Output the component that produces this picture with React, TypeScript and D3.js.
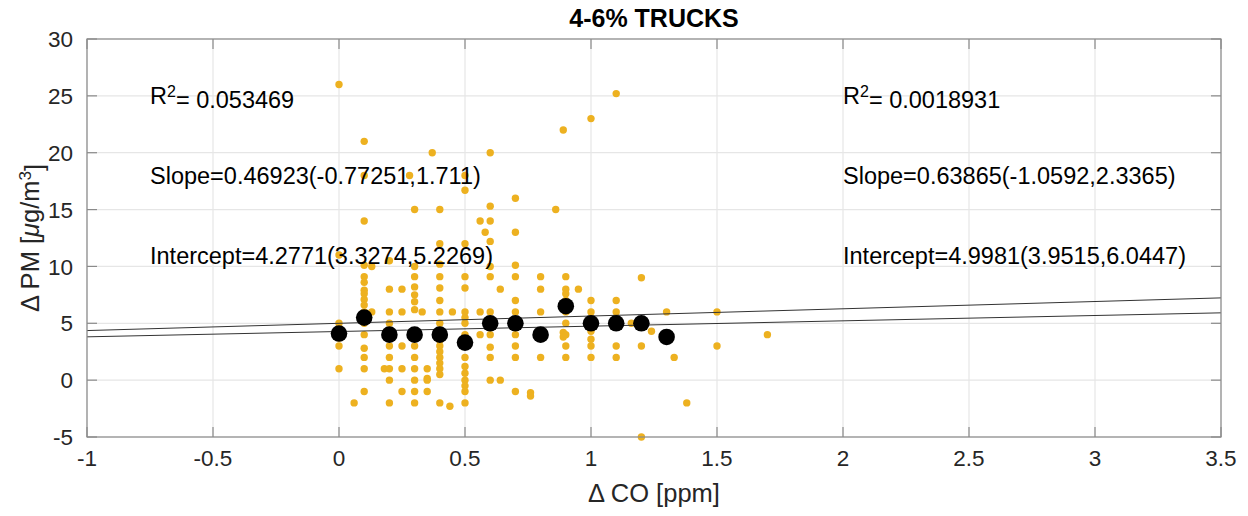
import * as d3 from 'd3'

// ΔCO [ppm] / ΔPM [µg/m3] scatter, grouped by CO column
const scatterColumns: [number, number[]][] = [
  [0, [26, 11, 5, 3.7, 3, 1, 4]],
  [0.06, [-2]],
  [0.1, [21, 18, 14, 10.1, 9.1, 8.6, 7.9, 7.6, 7.1, 6.6, 6, 5, 4, 2.8, 2, 1, -1]],
  [0.13, [10, 6]],
  [0.18, [1]],
  [0.2, [10.5, 8, 6, 5, 4, 3, 2, 1, 0, -2]],
  [0.25, [8, 6, 3, 1, -1]],
  [0.28, [18]],
  [0.3, [15, 10, 9.1, 8.2, 7.5, 6.9, 6.2, 3.8, 3, 2, 1, 0, -1, -2]],
  [0.33, [6]],
  [0.35, [1, 0.15, 0, -1]],
  [0.37, [20]],
  [0.4, [15, 12, 10.2, 9.1, 8.1, 7, 6, 5, 4, 3.5, 3, 2.5, 2, 1.5, 1, 0.5, -2]],
  [0.44, [-2.3]],
  [0.45, [6]],
  [0.5, [18, 16.7, 12, 9.1, 8.1, 6, 5.5, 5, 4, 2, 1.2, 0.6, 0, -0.5, -1, -2]],
  [0.56, [14, 6, 4]],
  [0.58, [13]],
  [0.6, [20, 15.3, 14, 12.2, 10, 9.1, 6, 5, 4, 2.9, 2, 0]],
  [0.64, [8, 0]],
  [0.7, [16, 13, 10.1, 9.1, 7, 6, 5, 4, 3, 2, -1]],
  [0.76, [-1.1, -1.4]],
  [0.8, [9.1, 8, 6, 2]],
  [0.86, [15]],
  [0.89, [22, 4.2, 3.8]],
  [0.9, [9.1, 8, 7.6, 7, 6, 5, 4, 3, 2]],
  [0.95, [8]],
  [1.0, [23, 7, 6, 5, 4.3, 3.6, 3, 2]],
  [1.1, [25.2, 7, 6, 5, 3, 2]],
  [1.16, [5]],
  [1.2, [9, 5, 3, -5]],
  [1.24, [4.3]],
  [1.3, [6]],
  [1.33, [2]],
  [1.38, [-2]],
  [1.5, [6, 3]],
  [1.7, [4]],
]

const binCO = [0, 0.1, 0.2, 0.3, 0.4, 0.5, 0.6, 0.7, 0.8, 0.9, 1.0, 1.1, 1.2, 1.3]
const binPM = [4.1, 5.5, 4, 4, 4, 3.3, 5, 5, 4, 6.5, 5, 5, 5, 3.8]

const fitSlopes = [0.46923, 0.63865]
const fitIntercepts = [4.2771, 4.9981]

const leftNotes = ['0.053469', 'Slope=0.46923(-0.77251,1.711)', 'Intercept=4.2771(3.3274,5.2269)']
const rightNotes = ['0.0018931', 'Slope=0.63865(-1.0592,2.3365)', 'Intercept=4.9981(3.9515,6.0447)']
const noteX = [-0.75, 2]
const noteY = [25, 18, 11]

const xTicks = [-1, -0.5, 0, 0.5, 1, 1.5, 2, 2.5, 3, 3.5]
const yTicks = [-5, 0, 5, 10, 15, 20, 25, 30]

const W = 1248
const H = 516
const m = { top: 39, right: 27, bottom: 79, left: 87 }
const FONT = '"Liberation Sans", Arial, Helvetica, sans-serif'
const TEXT = '#262626'
const AXIS = '#8a8a8a'
const GRID = '#e6e6e6'
const TICK = 10

export default function App() {
  const x = d3.scaleLinear().domain([-1, 3.5]).range([m.left, W - m.right])
  const y = d3.scaleLinear().domain([-5, 30]).range([H - m.bottom, m.top])
  const points = scatterColumns.flatMap(([co, pms]) => pms.map(pm => [co, pm]))
  const line = d3.line<number[]>().x(v => x(v[0])).y(v => y(v[1]))
  const x0 = m.left, x1 = W - m.right, y0 = H - m.bottom, y1 = m.top

  return (
    <svg width={W} height={H} style={{ position: 'absolute', left: 0, top: 0, background: '#fff' }}
      fontFamily={FONT}>
      <rect width={W} height={H} fill="#fff" />
      {/* grid */}
      {xTicks.map(t => (
        <line key={'gx' + t} x1={x(t)} x2={x(t)} y1={y0} y2={y1} stroke={GRID} strokeWidth={1.2} />
      ))}
      {yTicks.map(t => (
        <line key={'gy' + t} x1={x0} x2={x1} y1={y(t)} y2={y(t)} stroke={GRID} strokeWidth={1.2} />
      ))}

      {/* scatter */}
      {points.map((p, i) => (
        <circle key={i} cx={x(p[0])} cy={y(p[1])} r={3.7} fill="#EDB120" />
      ))}

      {/* fit lines */}
      {fitSlopes.map((s, i) => (
        <path key={'fit' + i}
          d={line([[-1, fitIntercepts[i] - s], [3.5, fitIntercepts[i] + 3.5 * s]]) || ''}
          fill="none" stroke="#333" strokeWidth={1} />
      ))}

      {/* bin means */}
      {binCO.map((c, i) => (
        <circle key={'b' + i} cx={x(c)} cy={y(binPM[i])} r={8.3} fill="#000" />
      ))}

      {/* box and ticks */}
      <rect x={x0} y={y1} width={x1 - x0} height={y0 - y1} fill="none" stroke={AXIS} strokeWidth={1.2} />
      {xTicks.map(t => (
        <g key={'tx' + t}>
          <line x1={x(t)} x2={x(t)} y1={y0} y2={y0 - TICK} stroke={AXIS} strokeWidth={1.2} />
          <line x1={x(t)} x2={x(t)} y1={y1} y2={y1 + TICK} stroke={AXIS} strokeWidth={1.2} />
          <text x={x(t)} y={y0 + 29} textAnchor="middle" fontSize={22.5} fill={TEXT}>{t}</text>
        </g>
      ))}
      {yTicks.map(t => (
        <g key={'ty' + t}>
          <line x1={x0} x2={x0 + TICK} y1={y(t)} y2={y(t)} stroke={AXIS} strokeWidth={1.2} />
          <line x1={x1} x2={x1 - TICK} y1={y(t)} y2={y(t)} stroke={AXIS} strokeWidth={1.2} />
          <text x={x0 - 14} y={y(t)} dy="0.36em" textAnchor="end" fontSize={22.5} fill={TEXT}>{t}</text>
        </g>
      ))}

      {/* annotations */}
      {[leftNotes, rightNotes].map((notes, k) => (
        <g key={'n' + k} fontSize={23.5} fill="#000">
          <text x={x(noteX[k])} y={y(noteY[0])} dy="0.36em">
            R<tspan dy="-0.45em" fontSize={16}>2</tspan><tspan dy="0.45em">= {notes[0]}</tspan>
          </text>
          <text x={x(noteX[k])} y={y(noteY[1])} dy="0.36em">{notes[1]}</text>
          <text x={x(noteX[k])} y={y(noteY[2])} dy="0.36em">{notes[2]}</text>
        </g>
      ))}

      {/* title and labels */}
      <text x={(x0 + x1) / 2} y={27} textAnchor="middle" fontSize={25} fontWeight="bold" fill="#000">
        4-6% TRUCKS
      </text>
      <text x={(x0 + x1) / 2} y={502} textAnchor="middle" fontSize={25.5} fill={TEXT}>Δ CO [ppm]</text>
      <text transform={`translate(39,${(y0 + y1) / 2}) rotate(-90)`} textAnchor="middle" fontSize={25.5} fill={TEXT}>
        Δ PM [<tspan fontStyle="italic">μ</tspan>g/m<tspan dy="-0.45em" fontSize={17}>3</tspan><tspan dy="0.45em">]</tspan>
      </text>
    </svg>
  )
}
